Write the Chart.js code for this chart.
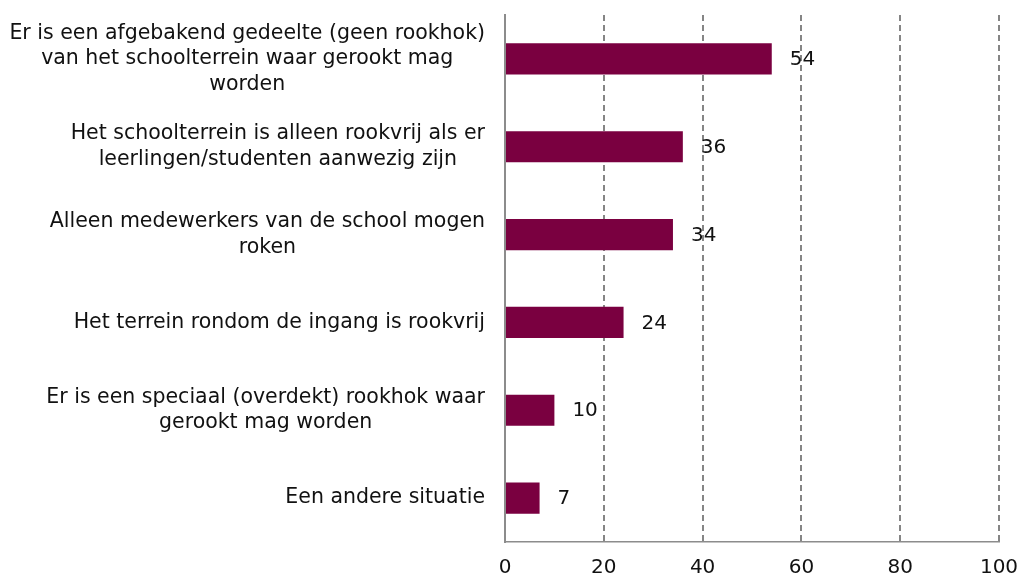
<!DOCTYPE html>
<html>
<head>
<meta charset="utf-8">
<script src="https://cdn.jsdelivr.net/npm/chart.js@4/dist/chart.umd.min.js"></script>
<style>
  html, body { margin: 0; padding: 0; background: #fff; overflow: hidden; }
  #wrap { width: 1022px; height: 576px; position: relative; }
</style>
</head>
<body>
<div id="wrap"><canvas id="chart"></canvas></div>
<script>
// categories (pre-wrapped the way the original shows them)
const categories = [
  ["Er is een afgebakend gedeelte (geen rookhok)", "van het schoolterrein waar gerookt mag", "worden"],
  ["Het schoolterrein is alleen rookvrij als er", "leerlingen/studenten aanwezig zijn"],
  ["Alleen medewerkers van de school mogen", "roken"],
  ["Het terrein rondom de ingang is rookvrij"],
  ["Er is een speciaal (overdekt) rookhok waar", "gerookt mag worden"],
  ["Een andere situatie"]
];
const values = [54, 36, 34, 24, 10, 7];
const xTicks = [0, 20, 40, 60, 80, 100];

const FONT = "DejaVu Sans";
const LABEL_SIZE = 20.5;
const NUM_SIZE = 20;

// category labels: right-aligned block, lines centered within it
const catLabels = {
  id: "catLabels",
  afterDraw(chart) {
    const ctx = chart.ctx;
    const y = chart.scales.y;
    const right = chart.chartArea.left - 20;
    const lh = 25.5;
    ctx.save();
    ctx.font = `${LABEL_SIZE}px "${FONT}"`;
    ctx.fillStyle = "#111";
    ctx.textAlign = "center";
    ctx.textBaseline = "middle";
    categories.forEach((lines, i) => {
      const w = Math.max(...lines.map(l => ctx.measureText(l).width));
      const cx = right - w / 2;
      const cy = y.getPixelForTick(i);
      const top = cy - (lines.length - 1) * lh / 2;
      lines.forEach((l, j) => ctx.fillText(l, cx, top + j * lh));
    });
    ctx.restore();
  }
};

// value labels to the right of each bar
const valueLabels = {
  id: "valueLabels",
  afterDatasetsDraw(chart) {
    const ctx = chart.ctx;
    const meta = chart.getDatasetMeta(0);
    ctx.save();
    ctx.font = `${NUM_SIZE}px "${FONT}"`;
    ctx.fillStyle = "#111";
    ctx.textAlign = "left";
    ctx.textBaseline = "middle";
    meta.data.forEach((bar, i) => {
      ctx.fillText(String(values[i]), bar.x + 18, bar.y + 1);
    });
    ctx.restore();
  }
};

new Chart(document.getElementById("chart"), {
  type: "bar",
  data: {
    labels: categories.map(c => c.join(" ")),
    datasets: [{
      data: values,
      backgroundColor: "#7a0040",
      borderWidth: 0,
      categoryPercentage: 1,
      barPercentage: 0.355
    }]
  },
  options: {
    indexAxis: "y",
    responsive: true,
    maintainAspectRatio: false,
    animation: false,
    layout: { padding: { left: 505, right: 23, top: 15, bottom: 0 } },
    plugins: { legend: { display: false }, tooltip: { enabled: false } },
    scales: {
      x: {
        min: 0, max: 100,
        afterBuildTicks: s => { s.ticks = xTicks.map(v => ({ value: v })); },
        afterFit: s => { s.height = 34; s.paddingRight = 0; s.paddingLeft = 0; },
        grid: {
          color: ctx => ctx.tick && ctx.tick.value === 0 ? "rgba(0,0,0,0)" : "#858585",
          lineWidth: 2,
          drawTicks: false
        },
        border: { display: true, color: "#8c8c8c", width: 1.5, dash: [6, 4] },
        ticks: { padding: 14, color: "#111", font: { family: FONT, size: NUM_SIZE } }
      },
      y: {
        grid: { display: false, drawTicks: false },
        border: { display: true, color: "#8c8c8c", width: 2 },
        ticks: { display: false }
      }
    }
  },
  plugins: [catLabels, valueLabels]
});
</script>
</body>
</html>
